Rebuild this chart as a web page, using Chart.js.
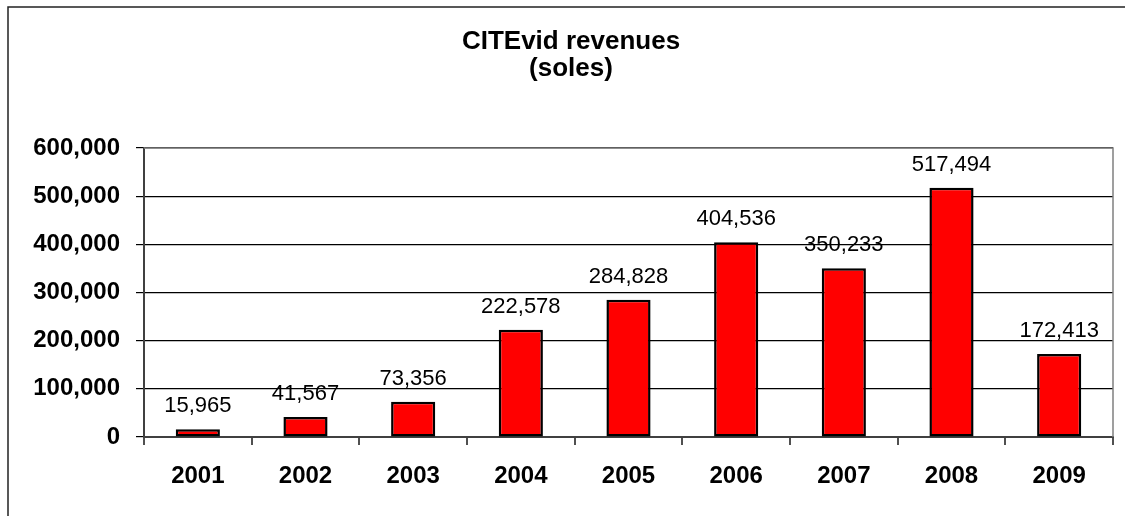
<!DOCTYPE html>
<html>
<head>
<meta charset="utf-8">
<script src="https://cdn.jsdelivr.net/npm/chart.js@4/dist/chart.umd.min.js"></script>
<style>
  html, body { margin: 0; padding: 0; background: #fff; }
  #wrap { width: 1125px; height: 516px; position: relative; }
</style>
</head>
<body>
<div id="wrap"><canvas id="c" width="1125" height="516"></canvas></div>
<script>
const categories = ['2001', '2002', '2003', '2004', '2005', '2006', '2007', '2008', '2009'];
const revenues = [15965, 41567, 73356, 222578, 284828, 404536, 350233, 517494, 172413];
const titleLines = ['CITEvid revenues', '(soles)'];
const yMin = 0;
const yMax = 600000;
const yStep = 100000;

const fmt = v => v.toLocaleString('en-US');

const framePlugin = {
  id: 'frame',
  beforeDraw(chart) {
    const ctx = chart.ctx;
    ctx.save();
    ctx.fillStyle = '#fff';
    ctx.fillRect(0, 0, chart.width, chart.height);
    ctx.strokeStyle = '#222';
    ctx.lineWidth = 1.5;
    ctx.strokeRect(8, 7, 1300, 700);
    // title
    ctx.fillStyle = '#000';
    ctx.textAlign = 'center';
    ctx.textBaseline = 'alphabetic';
    ctx.font = 'bold 26px "Liberation Sans", Arial, sans-serif';
    ctx.fillText(titleLines[0], 571, 49);
    ctx.fillText(titleLines[1], 571, 76);
    ctx.restore();
  },
  afterDatasetsDraw(chart) {
    const ctx = chart.ctx;
    const a = chart.chartArea;
    ctx.save();
    ctx.strokeStyle = '#808080';
    ctx.lineWidth = 1.5;
    ctx.beginPath();
    ctx.moveTo(a.left, a.top);
    ctx.lineTo(a.right, a.top);
    ctx.lineTo(a.right, a.bottom);
    ctx.stroke();
    // data labels
    ctx.fillStyle = '#000';
    ctx.textAlign = 'center';
    ctx.textBaseline = 'alphabetic';
    ctx.font = '22px "Liberation Sans", Arial, sans-serif';
    const meta = chart.getDatasetMeta(0);
    meta.data.forEach((bar, i) => {
      ctx.fillText(fmt(revenues[i]), bar.x, bar.y - 17);
    });
    ctx.restore();
  }
};

new Chart(document.getElementById('c'), {
  type: 'bar',
  data: {
    labels: categories,
    datasets: [{
      data: revenues,
      backgroundColor: '#FF0000',
      borderColor: '#000',
      borderWidth: 2.5,
      borderSkipped: false,
      barPercentage: 0.41,
      categoryPercentage: 1.0
    }]
  },
  options: {
    responsive: false,
    animation: false,
    devicePixelRatio: 1,
    layout: { padding: { top: 148, right: 12, left: 0, bottom: 0 } },
    plugins: {
      legend: { display: false },
      title: { display: false },
      tooltip: { enabled: false }
    },
    scales: {
      x: {
        afterFit(s) { s.height = 79; },
        grid: {
          display: true,
          drawOnChartArea: false,
          drawTicks: true,
          tickLength: 8,
          color: '#505050',
          lineWidth: 2,
          offset: true
        },
        border: { display: true, color: '#404040', width: 2 },
        ticks: {
          color: '#000',
          padding: 17,
          font: { family: '"Liberation Sans", Arial, sans-serif', size: 24, weight: 'bold' }
        }
      },
      y: {
        min: yMin,
        max: yMax,
        afterFit(s) { s.width = 144; },
        grid: {
          color: '#000',
          lineWidth: 1.2,
          tickLength: 8,
          drawTicks: true
        },
        border: { display: true, color: '#404040', width: 2 },
        ticks: {
          stepSize: yStep,
          color: '#000',
          padding: 16,
          callback: v => fmt(v),
          font: { family: '"Liberation Sans", Arial, sans-serif', size: 24, weight: 'bold' }
        }
      }
    }
  },
  plugins: [framePlugin]
});
</script>
</body>
</html>
